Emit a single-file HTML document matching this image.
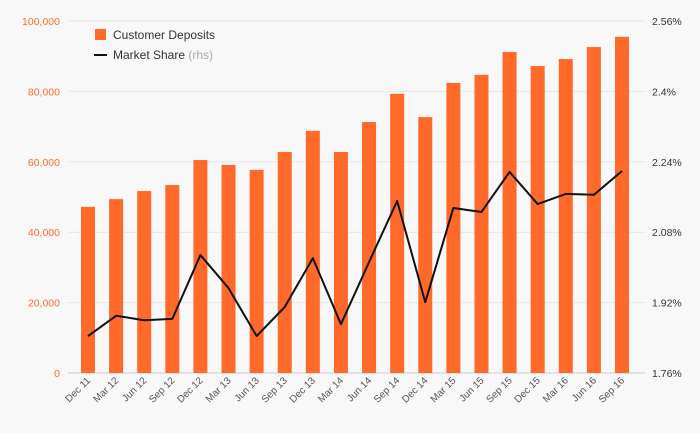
<!DOCTYPE html>
<html><head><meta charset="utf-8"><style>
html,body{margin:0;padding:0;background:#f8f8f8;}
svg{display:block;font-family:"Liberation Sans",sans-serif;}
</style></head><body>
<svg id="chart" width="700" height="433">
<rect width="700" height="433" fill="#f8f8f8"/>
<g id="grid"></g><g id="bars"></g><g id="line"></g><g id="axes"></g>
<g>
<rect x="95" y="29" width="11" height="11" fill="#ff6a2b"/>
<text x="113" y="39" font-size="12" fill="#333">Customer Deposits</text>
<line x1="94" y1="55" x2="107" y2="55" stroke="#111" stroke-width="2"/>
<text x="113" y="59" font-size="12" fill="#333">Market Share <tspan fill="#aaa">(rhs)</tspan></text>
</g>
</svg>
<script>
const categories=["Dec 11","Mar 12","Jun 12","Sep 12","Dec 12","Mar 13","Jun 13","Sep 13","Dec 13","Mar 14","Jun 14","Sep 14","Dec 14","Mar 15","Jun 15","Sep 15","Dec 15","Mar 16","Jun 16","Sep 16"];
const deposits=[47200,49400,51700,53400,60500,59100,57700,62800,68800,62800,71300,79300,72700,82400,84700,91200,87200,89200,92600,95500];
const share=[1.844,1.890,1.880,1.883,2.028,1.953,1.844,1.910,2.021,1.871,2.012,2.151,1.921,2.135,2.126,2.217,2.144,2.167,2.165,2.219];
const leftTicks=[0,20000,40000,60000,80000,100000];
const rightTicks=[1.76,1.92,2.08,2.24,2.4,2.56];
const NS="http://www.w3.org/2000/svg";
const plotTop=21,plotBot=373,x0=88,x1=622;
const xs=i=>x0+(x1-x0)*i/(categories.length-1);
const yL=v=>plotBot-(v/100000)*(plotBot-plotTop);
const yR=v=>plotBot-((v-1.76)/0.8)*(plotBot-plotTop);
function mk(t,a,p){const e=document.createElementNS(NS,t);for(const k in a)e.setAttribute(k,a[k]);p.appendChild(e);return e;}
const grid=document.getElementById('grid'),bars=document.getElementById('bars'),line=document.getElementById('line'),axes=document.getElementById('axes');
leftTicks.forEach((v,i)=>{
 const g=mk('line',{x1:68,x2:645,y1:yL(v),y2:yL(v),stroke:i==0?'#ccc':'#e6e6e6','stroke-width':1},grid);
 
 
 const t=mk('text',{x:60,y:yL(v)+4,'text-anchor':'end','font-size':10.5,fill:'#ff6a2b'},axes);
 t.textContent=v.toLocaleString('en-US');
 
 
});
rightTicks.forEach(v=>{
 const t=mk('text',{x:652,y:yR(v)+4,'font-size':10.5,fill:'#333'},axes);
 t.textContent=(+v.toFixed(2))+'%';
 
 
});
categories.forEach((c,i)=>{
 const b=mk('rect',{x:xs(i)-7,y:yL(deposits[i]),width:14,height:plotBot-yL(deposits[i]),fill:'#ff6a2b'},bars);
 
 
 const t=mk('text',{x:xs(i)+3,y:plotBot+8,'text-anchor':'end','font-size':10,fill:'#555',transform:`rotate(-45 ${xs(i)+3} ${plotBot+8})`},axes);
 t.textContent=c;
 
 
});
const pl=mk('polyline',{points:share.map((v,i)=>xs(i)+','+yR(v)).join(' '),fill:'none',stroke:'#111','stroke-width':2,'stroke-linejoin':'round'},line);


</script>
</body></html>
